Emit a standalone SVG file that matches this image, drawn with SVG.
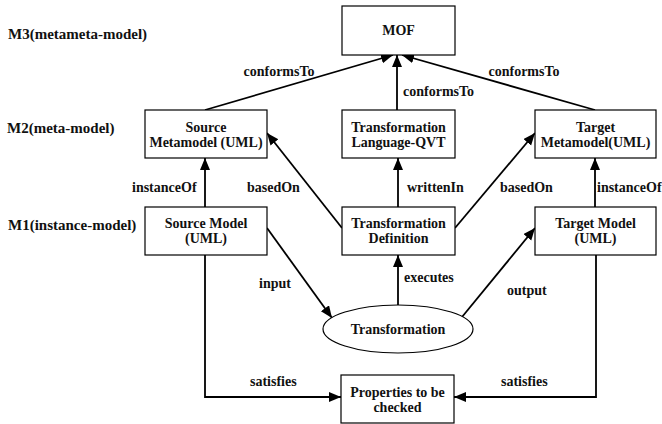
<svg xmlns="http://www.w3.org/2000/svg" width="662" height="424" viewBox="0 0 662 424">
<style>
  .box { fill: #fff; stroke: #000; stroke-width: 1.2; }
  .t { font-family: "Liberation Serif", "Times New Roman", serif; font-weight: bold; font-size: 14px; fill: #111; }
  .c { text-anchor: middle; }
  .lvl { font-size: 15px; }
  .conn { fill: none; stroke: #000; stroke-width: 1.8; marker-end: url(#arr); }
</style>
<defs>
  <marker id="arr" markerUnits="userSpaceOnUse" markerWidth="13" markerHeight="11" refX="12" refY="5" orient="auto" viewBox="0 0 13 11">
    <path d="M0,0 L12,5 L0,10 z" fill="#000"/>
  </marker>
</defs>
<rect width="662" height="424" fill="#fff"/>

<g id="levels">
  <text class="t lvl" x="8" y="39">M3(metameta-model)</text>
  <text class="t lvl" x="7" y="133">M2(meta-model)</text>
  <text class="t lvl" x="8" y="230">M1(instance-model)</text>
</g>

<g id="connectors">
  <line class="conn" x1="205" y1="110" x2="393" y2="55"/>
  <line class="conn" x1="397" y1="110" x2="397" y2="55"/>
  <line class="conn" x1="595" y1="110" x2="402" y2="55"/>
  <line class="conn" x1="205" y1="207" x2="205" y2="158"/>
  <line class="conn" x1="595" y1="207" x2="595" y2="158"/>
  <line class="conn" x1="342" y1="228" x2="267" y2="133"/>
  <line class="conn" x1="398" y1="207" x2="398" y2="158"/>
  <line class="conn" x1="455" y1="228" x2="535" y2="133"/>
  <line class="conn" x1="267" y1="228" x2="332" y2="318"/>
  <line class="conn" x1="398" y1="305" x2="398" y2="255"/>
  <line class="conn" x1="462" y1="317" x2="535" y2="228"/>
  <polyline class="conn" points="205,255 205,397 341,397"/>
  <polyline class="conn" points="596,255 596,397 454,397"/>
  <text class="t c" x="279" y="76">conformsTo</text>
  <text class="t" x="403" y="96">conformsTo</text>
  <text class="t c" x="524" y="76">conformsTo</text>
  <text class="t" x="132" y="192">instanceOf</text>
  <text class="t" x="247" y="192">basedOn</text>
  <text class="t" x="407" y="192">writtenIn</text>
  <text class="t" x="500" y="192">basedOn</text>
  <text class="t" x="597" y="192">instanceOf</text>
  <text class="t" x="259" y="288">input</text>
  <text class="t" x="404" y="282">executes</text>
  <text class="t" x="507" y="295">output</text>
  <text class="t" x="250" y="386">satisfies</text>
  <text class="t" x="501" y="386">satisfies</text>
</g>

<g id="mof">
  <rect class="box" x="342" y="6" width="113" height="49"/>
  <text class="t c" x="398.5" y="35">MOF</text>
</g>
<g id="source-metamodel">
  <rect class="box" x="145" y="110" width="122" height="48"/>
  <text class="t c" x="206" y="131.5">Source</text>
  <text class="t c" x="206" y="147">Metamodel (UML)</text>
</g>
<g id="transformation-language">
  <rect class="box" x="342" y="110" width="113" height="48"/>
  <text class="t c" x="398.5" y="131.5">Transformation</text>
  <text class="t c" x="398.5" y="147">Language-QVT</text>
</g>
<g id="target-metamodel">
  <rect class="box" x="535" y="110" width="121" height="48"/>
  <text class="t c" x="595.5" y="131.5">Target</text>
  <text class="t c" x="595.5" y="147">Metamodel(UML)</text>
</g>
<g id="source-model">
  <rect class="box" x="145" y="207" width="122" height="48"/>
  <text class="t c" x="206" y="228">Source Model</text>
  <text class="t c" x="206" y="243">(UML)</text>
</g>
<g id="transformation-definition">
  <rect class="box" x="342" y="207" width="113" height="48"/>
  <text class="t c" x="398.5" y="228">Transformation</text>
  <text class="t c" x="398.5" y="243">Definition</text>
</g>
<g id="target-model">
  <rect class="box" x="535" y="207" width="121" height="48"/>
  <text class="t c" x="595.5" y="228">Target Model</text>
  <text class="t c" x="595.5" y="243">(UML)</text>
</g>
<g id="transformation">
  <ellipse class="box" cx="398" cy="329" rx="75" ry="24"/>
  <text class="t c" x="398" y="334">Transformation</text>
</g>
<g id="properties">
  <rect class="box" x="341" y="375" width="113" height="48"/>
  <text class="t c" x="397.5" y="396.5">Properties to be</text>
  <text class="t c" x="397.5" y="412">checked</text>
</g>
</svg>
